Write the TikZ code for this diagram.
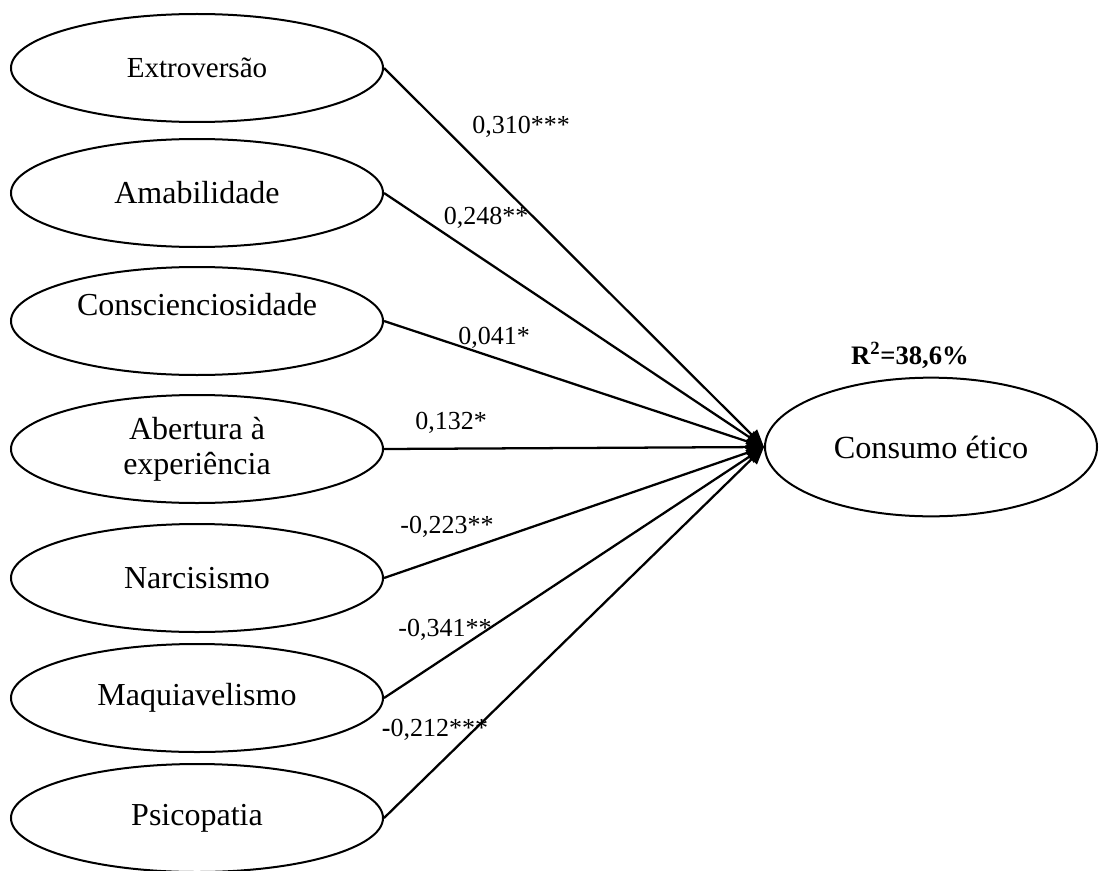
\documentclass[tikz,border=0pt]{standalone}
\usepackage{fontspec}
\setmainfont{Liberation Serif}
\usetikzlibrary{shapes.geometric,arrows.meta}
\begin{document}
\begin{tikzpicture}[x=0.75pt,y=-0.75pt,
  lat/.style={draw,ellipse,line width=1.5pt,minimum width=279pt,minimum height=81pt,inner sep=0pt,align=center,font=\fontsize{24}{26}\selectfont},
  dep/.style={draw,ellipse,line width=1.5pt,minimum width=249pt,minimum height=104pt,inner sep=0pt,font=\fontsize{24.2}{26}\selectfont},
  path/.style={line width=1.7pt,-{Triangle[length=13pt,width=11pt]}},
  coef/.style={font=\fontsize{19.5}{21}\selectfont,inner sep=0pt}]
\useasboundingbox (0,0) rectangle (1105,870);
\node[lat,font=\fontsize{21.8}{24}\selectfont] (E) at (197,68) {Extroversão};
\node[lat] (A) at (197,193) {Amabilidade};
\node[lat] (Co) at (197,321) {};
\node[font=\fontsize{24}{26}\selectfont,inner sep=0pt] (CoT) at (197,305) {Conscienciosidade};
\node[lat] (Ab) at (197,449) {Abertura à\\experiência};
\node[lat] (N) at (197,578) {Narcisismo};
\node[lat] (M) at (197,698) {Maquiavelismo};
\node[lat] (P) at (197,818) {Psicopatia};
\node[dep] (C) at (931,447) {Consumo ético};
\node[font=\bfseries\fontsize{20}{22}\selectfont,inner sep=0pt] (R) at (910,355) {R\textsuperscript{2}=38,6\%};
\foreach \n in {E,A,Co,Ab,N,M,P} \draw[path] (\n.east) -- (C.west);
\node[coef] (lE) at (521,127) {0,310***};
\node[coef] (lA) at (486,218) {0,248**};
\node[coef] (lCo) at (494,338) {0,041*};
\node[coef] (lAb) at (451,423) {0,132*};
\node[coef] (lN) at (447,527) {-0,223**};
\node[coef] (lM) at (445,630) {-0,341**};
\node[coef] (lP) at (435,730) {\textbf{-}0,212***};
\end{tikzpicture}
\end{document}
